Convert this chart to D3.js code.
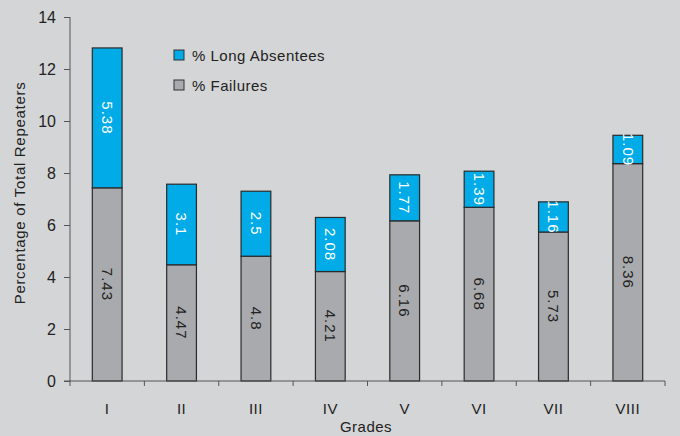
<!DOCTYPE html>
<html>
<head>
<meta charset="utf-8">
<script src="https://cdn.jsdelivr.net/npm/d3@7"></script>
<style>
  body { margin: 0; background: #d4d5d6; }
  text { font-family: "Liberation Sans", Arial, sans-serif; fill: #222; }
</style>
</head>
<body>
<div id="chart"></div>
<script>
// data
var grades = ['I', 'II', 'III', 'IV', 'V', 'VI', 'VII', 'VIII'];
var failures = [7.43, 4.47, 4.8, 4.21, 6.16, 6.68, 5.73, 8.36];
var absentees = [5.38, 3.1, 2.5, 2.08, 1.77, 1.39, 1.16, 1.09];
var yTicks = [0, 2, 4, 6, 8, 10, 12, 14];

var w = 680, h = 436;
var plotL = 70, plotR = 665, plotT = 17, plotB = 381;

var svg = d3.select('#chart').append('svg')
  .attr('width', w)
  .attr('height', h);

svg.append('rect').attr('width', w).attr('height', h).attr('fill', '#d4d5d6');

var x = d3.scaleBand().domain(grades).range([plotL, plotR]).paddingInner(0.6).paddingOuter(0.3);
var y = d3.scaleLinear().domain([0, 14]).range([plotB, plotT]);

var rows = grades.map(function(g, i) {
  return { grade: g, fail: failures[i], abs: absentees[i] };
});

// failures (bottom)
svg.selectAll('.fail')
  .data(rows)
  .enter()
  .append('rect')
    .attr('class', 'fail')
    .attr('x', d => x(d.grade))
    .attr('y', d => y(d.fail))
    .attr('width', x.bandwidth())
    .attr('height', d => y(0) - y(d.fail))
    .attr('fill', '#a9aaad')
    .attr('stroke', '#2a2a2a')
    .attr('stroke-width', 1.2);

// long absentees (top)
svg.selectAll('.abs')
  .data(rows)
  .enter()
  .append('rect')
    .attr('class', 'abs')
    .attr('x', d => x(d.grade))
    .attr('y', d => y(d.fail + d.abs))
    .attr('width', x.bandwidth())
    .attr('height', d => y(d.fail) - y(d.fail + d.abs))
    .attr('fill', '#00abe8')
    .attr('stroke', '#2a2a2a')
    .attr('stroke-width', 1.2);

// value labels, rotated
svg.selectAll('.fail-label')
  .data(rows)
  .enter()
  .append('text')
    .attr('class', 'fail-label')
    .attr('transform', d => 'translate(' + (x(d.grade) + x.bandwidth() / 2) + ',' + y(d.fail / 2) + ') rotate(90)')
    .attr('text-anchor', 'middle')
    .attr('dy', '0.35em')
    .style('font-size', '15px')
    .style('letter-spacing', '1px')
    .text(d => d.fail);

svg.selectAll('.abs-label')
  .data(rows)
  .enter()
  .append('text')
    .attr('class', 'abs-label')
    .attr('transform', d => 'translate(' + (x(d.grade) + x.bandwidth() / 2) + ',' + y(d.fail + d.abs / 2) + ') rotate(90)')
    .attr('text-anchor', 'middle')
    .attr('dy', '0.35em')
    .style('font-size', '15px')
    .style('letter-spacing', '1px')
    .style('fill', '#fff')
    .text(d => d.abs);

// y axis
var yAxis = d3.axisLeft(y).tickValues(yTicks).tickSize(6).tickPadding(8);
var gy = svg.append('g').attr('transform', 'translate(' + plotL + ',0)').call(yAxis);
gy.select('.domain').attr('stroke', '#555').attr('d', 'M0,' + plotT + 'V' + plotB);
gy.selectAll('.tick line').attr('stroke', '#555');
gy.selectAll('.tick text').style('font-size', '16px').attr('fill', '#222')
  .style('font-family', '"Liberation Sans", Arial, sans-serif');

// x axis: ticks on category boundaries
var step = x.step();
var boundaries = d3.range(grades.length + 1).map(i => plotL + i * step);
var gx = svg.append('g');
gx.append('line')
  .attr('x1', plotL - 6).attr('x2', plotR)
  .attr('y1', plotB).attr('y2', plotB)
  .attr('stroke', '#555');
gx.selectAll('.bt')
  .data(boundaries)
  .enter()
  .append('line')
    .attr('x1', d => d).attr('x2', d => d)
    .attr('y1', plotB).attr('y2', plotB + 5)
    .attr('stroke', '#555');
gx.selectAll('.cat')
  .data(grades)
  .enter()
  .append('text')
    .attr('x', d => x(d) + x.bandwidth() / 2)
    .attr('y', 414)
    .attr('text-anchor', 'middle')
    .style('font-size', '15px')
    .style('letter-spacing', '0.5px')
    .text(d => d);

// axis titles
svg.append('text')
  .attr('x', 366).attr('y', 432)
  .attr('text-anchor', 'middle')
  .style('font-size', '15px')
  .style('letter-spacing', '0.5px')
  .text('Grades');

svg.append('text')
  .attr('transform', 'translate(25,' + 193 + ') rotate(-90)')
  .attr('text-anchor', 'middle')
  .style('font-size', '15px')
  .style('letter-spacing', '0.7px')
  .text('Percentage of Total Repeaters');

// legend
var legend = [
  { name: '% Long Absentees', color: '#00abe8' },
  { name: '% Failures', color: '#a9aaad' }
];
var lg = svg.selectAll('.legend')
  .data(legend)
  .enter()
  .append('g')
    .attr('transform', (d, i) => 'translate(174,' + (50 + i * 30) + ')');
lg.append('rect')
  .attr('width', 10).attr('height', 10)
  .attr('fill', d => d.color)
  .attr('stroke', '#333');
lg.append('text')
  .attr('x', 18).attr('y', 10.5)
  .style('font-size', '15px')
  .style('letter-spacing', '0.5px')
  .text(d => d.name);
</script>
</body>
</html>
